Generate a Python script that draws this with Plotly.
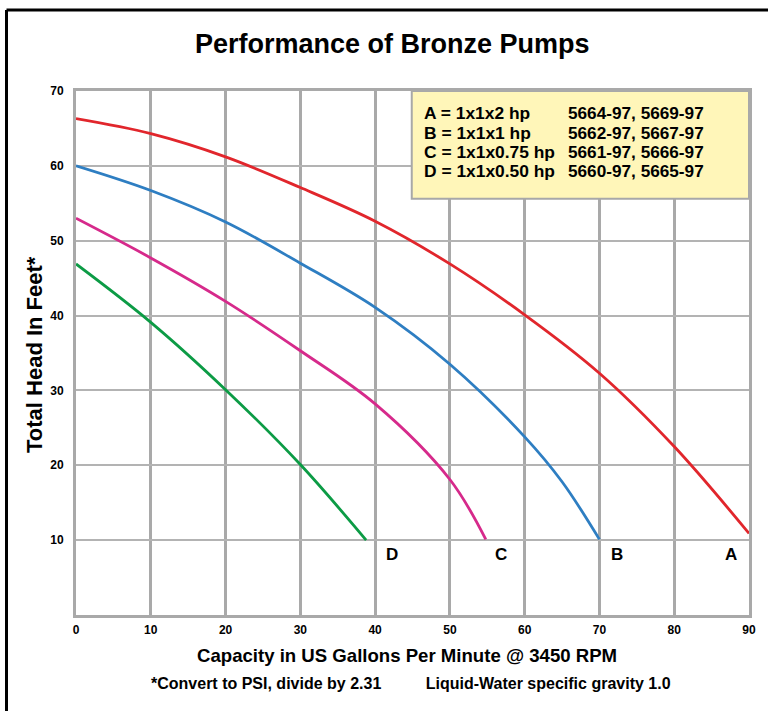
import plotly.graph_objects as go

# ---- data ----
a_x = [0, 10, 20, 30, 40, 50, 60, 70, 80, 90]
a_y = [66.3, 64.3, 61.2, 57.1, 52.6, 46.9, 40.1, 32.3, 22.5, 10.9]

b_x = [0, 10, 20, 30, 40, 50, 60, 65, 70]
b_y = [60.0, 56.7, 52.5, 47.0, 41.1, 33.5, 23.8, 17.8, 10.1]

c_x = [0, 10, 20, 30, 40, 50, 54.8]
c_y = [53.0, 47.7, 41.9, 35.3, 28.2, 18.1, 10.1]

d_x = [0, 10, 20, 30, 38.8]
d_y = [46.9, 39.1, 30.1, 20.1, 10.0]

curve_names = ["A", "B", "C", "D"]
curve_colors = ["#E1262C", "#2E7EC2", "#D62A8B", "#0C9B45"]
label_x = [87.6, 72.4, 56.8, 42.3]
label_y = [8.1, 8.1, 8.1, 8.1]

legend_left = ["A = 1x1x2 hp", "B = 1x1x1 hp", "C = 1x1x0.75 hp", "D = 1x1x0.50 hp"]
legend_right = ["5664-97, 5669-97", "5662-97, 5667-97", "5661-97, 5666-97", "5660-97, 5665-97"]

x_ticks = [0, 10, 20, 30, 40, 50, 60, 70, 80, 90]
y_ticks = [10, 20, 30, 40, 50, 60, 70]

title_text = "Performance of Bronze Pumps"
x_title = "Capacity in US Gallons Per Minute @ 3450 RPM"
y_title = "Total Head In Feet*"
note_text = "*Convert to PSI, divide by 2.31&nbsp;&nbsp;&nbsp;&nbsp;&nbsp;&nbsp;&nbsp;&nbsp;&nbsp;&nbsp;Liquid-Water specific gravity 1.0"

FONT = "Liberation Sans, Arial, Helvetica, sans-serif"

W, H = 768, 711
L, R, T, B = 76, 19, 91, 96
PW, PH = W - L - R, H - T - B


def px2paper(px, py):
    return (px - L) / PW, (H - B - py) / PH


fig = go.Figure()

# legend box
fig.add_shape(type="rect", x0=44.9, x1=90, y0=55.6, y1=70, xref="x", yref="y",
              fillcolor="#FFF6B9", line=dict(color="#A8A8A8", width=2), layer="above")

for xs, ys, name, col in zip([a_x, b_x, c_x, d_x], [a_y, b_y, c_y, d_y], curve_names, curve_colors):
    fig.add_trace(go.Scatter(x=xs, y=ys, mode="lines", name=name,
                             line=dict(color=col, width=2.8, shape="spline", smoothing=1.0),
                             showlegend=False, hoverinfo="skip"))

for name, lx, ly in zip(curve_names, label_x, label_y):
    fig.add_annotation(x=lx, y=ly, xref="x", yref="y", text=name, showarrow=False,
                       xanchor="center", yanchor="middle",
                       font=dict(family=FONT, size=17, color="black", weight="bold"))

# legend text
row_y = [113.3, 132.5, 151.7, 170.9]
for lt, rt, py in zip(legend_left, legend_right, row_y):
    xp, yp = px2paper(422.0, py)
    fig.add_annotation(x=xp, y=yp, xref="paper", yref="paper", text=lt, showarrow=False,
                       xanchor="left", yanchor="middle",
                       font=dict(family=FONT, size=17.4, color="black", weight="bold"))
    xp2, _ = px2paper(566.0, py)
    fig.add_annotation(x=xp2, y=yp, xref="paper", yref="paper", text=rt, showarrow=False,
                       xanchor="left", yanchor="middle",
                       font=dict(family=FONT, size=17.2, color="black", weight="bold"))


def text_at(px, py, txt, size, angle=0):
    xp, yp = px2paper(px, py)
    fig.add_annotation(x=xp, y=yp, xref="paper", yref="paper", text=txt, showarrow=False,
                       xanchor="center", yanchor="middle", textangle=angle,
                       font=dict(family=FONT, size=size, color="black", weight="bold"))


text_at(392, 44, title_text, 27)
text_at(407, 655, x_title, 18.6)
text_at(411, 683, note_text, 16)
text_at(34, 355, y_title, 22, angle=-90)

# outer frame (top and left lines)
x_left, y_top = px2paper(6.5, 10)
x_right, y_bot = px2paper(800, 740)
fig.add_shape(type="line", xref="paper", yref="paper", x0=x_left, x1=x_right, y0=y_top, y1=y_top,
              line=dict(color="black", width=3))
fig.add_shape(type="line", xref="paper", yref="paper", x0=x_left, x1=x_left, y0=y_top, y1=y_bot,
              line=dict(color="black", width=3))

fig.update_xaxes(range=[0, 90], tickvals=x_ticks, ticktext=[str(v) for v in x_ticks],
                 showgrid=True, gridcolor="#A9A9A9", gridwidth=3,
                 showline=True, linecolor="#A9A9A9", linewidth=3, mirror=True,
                 zeroline=False, ticks="", ticklabelstandoff=2,
                 tickfont=dict(family=FONT, size=12, color="black", weight="bold"))
fig.update_yaxes(range=[0, 70], tickvals=y_ticks, ticktext=[str(v) for v in y_ticks],
                 showgrid=True, gridcolor="#B3B3B3", gridwidth=2,
                 showline=True, linecolor="#A9A9A9", linewidth=3, mirror=True,
                 zeroline=False, ticks="", ticklabelstandoff=7,
                 tickfont=dict(family=FONT, size=12, color="black", weight="bold"))

fig.update_layout(width=W, height=H, margin=dict(l=L, r=R, t=T, b=B),
                  paper_bgcolor="white", plot_bgcolor="white", showlegend=False)

fig.write_html("out.html", config={"displayModeBar": False},
               post_script="document.body.style.margin='0';document.body.style.overflow='hidden';")
